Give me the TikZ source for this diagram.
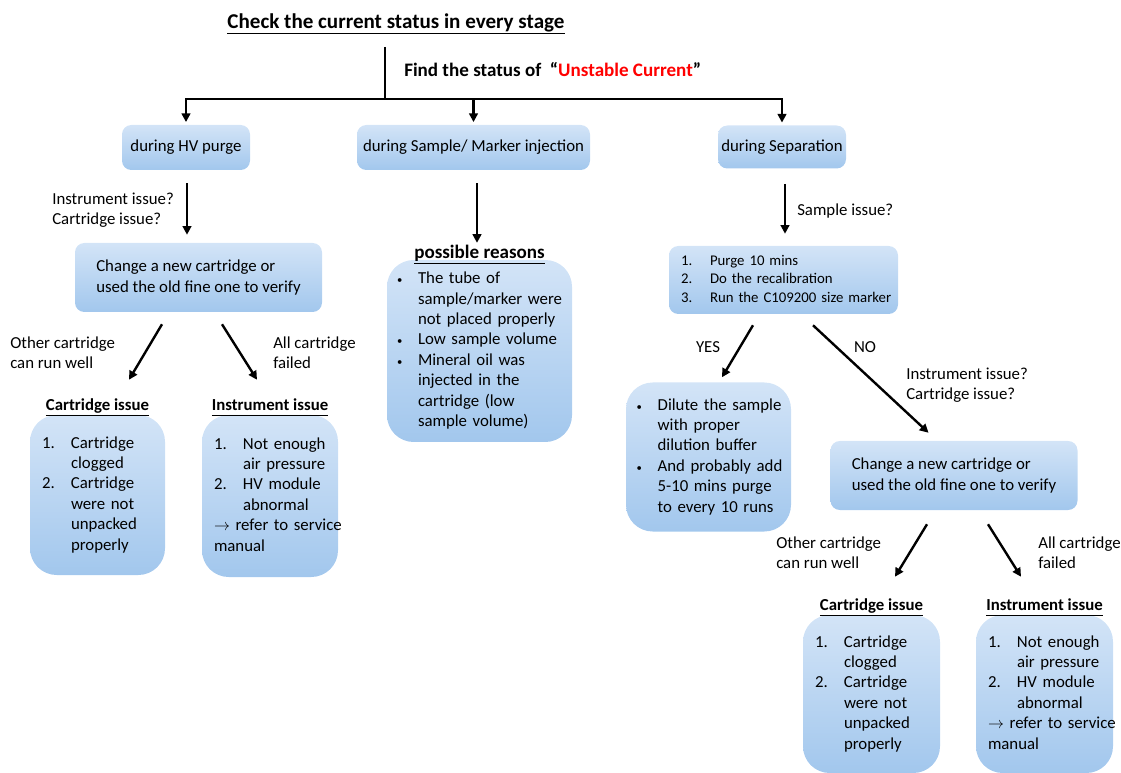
\documentclass[tikz,border=0pt]{standalone}
\usepackage{fontspec}
\setmainfont{Carlito}
\usetikzlibrary{positioning, calc, arrows.meta}
\setlength\parindent{0pt}

\definecolor{boxtop}{RGB}{211,228,247}
\definecolor{boxbot}{RGB}{162,199,237}
\definecolor{alertred}{RGB}{255,0,0}

\newcommand{\bodyfont}{\fontsize{12.6}{15.3}\selectfont}
\newcommand{\stepfont}{\fontsize{11.1}{13.9}\selectfont}
\newcommand{\dotitem}{{\fontsize{8}{8}\selectfont\textbullet}}
\newcommand{\headline}[1]{\underline{#1\vphantom{gp}}}

\newcommand{\cartissue}{\begin{tabular}{@{}p{21.75pt}@{}l@{}}
1. & Cartridge\\ & clogged\\ 2. & Cartridge\\ & were not\\ & unpacked\\ & properly
\end{tabular}}
\newcommand{\instissue}{\begin{tabular}{@{}p{21.75pt}@{}l@{}}
1. & Not enough\\ & air pressure\\ 2. & HV module\\ & abnormal\\
\multicolumn{2}{@{}l@{}}{$\rightarrow$ refer to service}\\ \multicolumn{2}{@{}l@{}}{manual}
\end{tabular}}

\tikzset{
  stage/.style={rounded corners=7pt, top color=boxtop, bottom color=boxbot, font=\bodyfont, align=left, inner sep=0pt},
  tall/.style={stage, rounded corners=20pt},
  arr/.style={line width=1.8pt, -{Triangle[length=6.5pt,width=6.5pt]}},
  note/.style={font=\bodyfont, align=left, inner sep=0pt},
  head/.style={font=\bodyfont\bfseries, inner sep=0pt},
}

\begin{document}
\begin{tikzpicture}[x=0.75pt, y=-0.75pt]
    \useasboundingbox (0,0) rectangle (1121,773);

    \node[font=\fontsize{15.8}{19}\selectfont\bfseries, inner sep=0pt] (title) at (396,24) {\underline{Check the current status in every stage}};
    \node[font=\fontsize{14.3}{17}\selectfont\bfseries, inner sep=0pt, anchor=west] (find) at (404,70) {Find the status of\ \ “\textcolor{alertred}{Unstable Current}”};

    \coordinate (trunk) at (385,47);
    \coordinate (split) at (385,99);

    \node[stage, minimum width=96pt, minimum height=33.75pt] (hvp) at (186,147.5) {during HV purge};
    \node[stage, minimum width=174.75pt, minimum height=33.75pt] (smp) at (473.5,147.5) {during Sample/ Marker injection};
    \node[stage, minimum width=96pt, minimum height=32.25pt] (sep) at (782,147) {during Separation};

    \draw[line width=1.8pt] (trunk) -- (split);
    \draw[arr, shorten >=2pt] (split) -| (hvp.north);
    \draw[arr, shorten >=2pt] (split) -| (sep.north);
    \draw[arr, shorten >=2pt] (smp.north |- split) -- (smp.north);

    % HV purge branch
    \node[stage, minimum width=185.25pt, minimum height=51.75pt] (chg1) at (198.5,277.5) {Change a new cartridge or\\used the old fine one to verify};
    \draw[arr] ($(hvp.south)+(1,13)$) -- ($(hvp.south |- chg1.north)+(1,-8)$);
    \node[note, anchor=west] (q1) at (52,210) {Instrument issue?\\Cartridge issue?};

    \node[tall, inner xsep=9pt, text width=83.25pt, minimum height=120pt] (cib1) at (97.5,495) {\cartissue};
    \node[tall, inner xsep=9pt, text width=84pt, minimum height=121.5pt] (iib1) at (270,496) {\instissue};
    \node[head, above=-1.5pt of cib1] (cih1) {\headline{Cartridge issue}};
    \node[head, above=-1.5pt of iib1] (iih1) {\headline{Instrument issue}};

    \draw[arr] ($(chg1.south)+(-36.5,12)$) -- ($(cib1.north)+(31.5,-35)$);
    \draw[arr] ($(chg1.south)+(23.5,12)$) -- ($(iib1.north)+(-13,-35)$);
    \node[note, anchor=west] (ok1) at (10,353) {Other cartridge\\can run well};
    \node[note, anchor=west] (fail1) at (273,353) {All cartridge\\failed};

    % sample / marker branch
    \node[tall, inner xsep=7.5pt, text width=123.75pt, minimum height=136.5pt] (rsn) at (479.5,351) {\begin{tabular}{@{}p{15.75pt}@{}l@{}}
    \dotitem & The tube of\\ & sample/marker were\\ & not placed properly\\ \dotitem & Low sample volume\\
    \dotitem & Mineral oil was\\ & injected in the\\ & cartridge (low\\ & sample volume)
    \end{tabular}};
    \node[font=\fontsize{14.3}{17}\selectfont\bfseries, inner sep=0pt, above=-3.5pt of rsn] (rsnhead) {\underline{possible reasons}};
    \draw[arr] ($(smp.south)+(3.5,13)$) -- ($(smp.south |- rsnhead.north)+(3.5,-2)$);

    % separation branch
    \node[stage, font=\stepfont, inner xsep=9pt, text width=153.75pt, minimum height=51pt] (steps) at (783.5,280) {\begin{tabular}{@{}p{21.75pt}@{}l@{}}
    1. & Purge 10 mins\\ 2. & Do the recalibration\\ 3. & Run the C109200 size marker
    \end{tabular}};
    \draw[arr] ($(sep.south)+(3,15)$) -- ($(sep.south |- steps.north)+(3,-12)$);
    \node[note, anchor=west] (q2) at (797,211) {Sample issue?};

    \node[tall, inner xsep=8pt, text width=107.75pt, minimum height=111.75pt] (dil) at (708.5,457) {\begin{tabular}{@{}p{15.75pt}@{}l@{}}
    \dotitem & Dilute the sample\\ & with proper\\ & dilution buffer\\ \dotitem & And probably add\\ & 5-10 mins purge\\ & to every 10 runs
    \end{tabular}};
    \node[stage, minimum width=185.25pt, minimum height=51.75pt] (chg2) at (954,475.5) {Change a new cartridge or\\used the old fine one to verify};

    \draw[arr] ($(steps.south)+(-30.5,11)$) -- ($(dil.north)+(13.5,-5)$);
    \draw[arr] ($(steps.south)+(29.5,11)$) -- ($(chg2.north)+(-25.5,-8)$);
    \node[note] (yes) at (708,347) {YES};
    \node[note] (no) at (865,347) {NO};
    \node[note, anchor=west] (q3) at (906,385) {Instrument issue?\\Cartridge issue?};

    \node[tall, inner xsep=9pt, text width=84.75pt, minimum height=118.5pt] (cib2) at (871.5,694) {\cartissue};
    \node[tall, inner xsep=9pt, text width=84.75pt, minimum height=118.5pt] (iib2) at (1044.5,694) {\instissue};
    \node[head, above=-1.5pt of cib2] (cih2) {\headline{Cartridge issue}};
    \node[head, above=-1.5pt of iib2] (iih2) {\headline{Instrument issue}};

    \draw[arr] ($(chg2.south)+(-27,14)$) -- ($(cib2.north)+(23.5,-38)$);
    \draw[arr] ($(chg2.south)+(34,14)$) -- ($(iib2.north)+(-23.5,-38)$);
    \node[note, anchor=west] (ok2) at (776,553) {Other cartridge\\can run well};
    \node[note, anchor=west] (fail2) at (1038,553) {All cartridge\\failed};

\end{tikzpicture}
\end{document}
